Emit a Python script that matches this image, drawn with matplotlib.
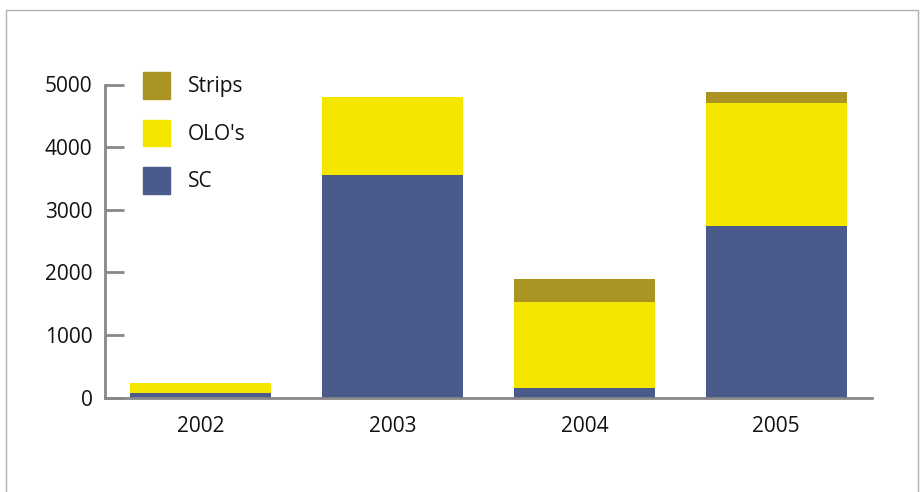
import matplotlib
matplotlib.use("Agg")
import matplotlib.pyplot as plt
from matplotlib.patches import Rectangle, Patch
import numpy as np

# Yearly volumes per instrument type
years = ["2002", "2003", "2004", "2005"]
sc = [70, 3550, 150, 2740]
olos = [160, 1250, 1370, 1970]
strips = [0, 0, 370, 170]

c_sc = "#4a5a8b"
c_olo = "#f5e600"
c_strips = "#a99424"
grey = "#888888"
txt = "#111111"

plt.rcParams["font.family"] = ["Open Sans", "DejaVu Sans"]

fig = plt.figure(figsize=(9.22, 4.92), dpi=100)
W, H = 922, 492

# light frame around the chart
fig.patches.append(Rectangle((6 / W, -0.1), 912 / W, 1.1 - 10 / H,
                             transform=fig.transFigure, fill=False,
                             edgecolor="#b0b0b0", linewidth=1.0))

ax = fig.add_axes([105 / W, 94.3 / H, 767 / W, 313.2 / H])

x = np.arange(len(years))
w = 0.735
sc_arr = np.array(sc)
olo_arr = np.array(olos)
ax.bar(x, sc, width=w, color=c_sc)
ax.bar(x, olos, width=w, bottom=sc_arr, color=c_olo)
ax.bar(x, strips, width=w, bottom=sc_arr + olo_arr, color=c_strips)

ax.set_xlim(-0.5, 3.5)
ax.set_ylim(0, 5000)
ax.set_yticks([0, 1000, 2000, 3000, 4000, 5000])
ax.set_xticks(x)
ax.set_xticklabels(years)

for s in ["top", "right"]:
    ax.spines[s].set_visible(False)
for s in ["left", "bottom"]:
    ax.spines[s].set_color(grey)
    ax.spines[s].set_linewidth(2.0)

ax.tick_params(axis="y", direction="in", length=14, width=2.0, color=grey,
               pad=9, labelsize=15, labelcolor=txt)
ax.tick_params(axis="x", length=0, pad=13, labelsize=15, labelcolor=txt)

handles = [Patch(color=c_strips), Patch(color=c_olo), Patch(color=c_sc)]
fig.legend(handles, ["Strips", "OLO's", "SC"], loc="upper left",
           bbox_to_anchor=(143 / W, 1 - 72 / H), frameon=False,
           fontsize=15, borderpad=0, borderaxespad=0,
           handlelength=1.3, handleheight=1.6, labelspacing=1.0,
           handletextpad=0.85, labelcolor=txt)

fig.savefig("out.png", dpi=100)
